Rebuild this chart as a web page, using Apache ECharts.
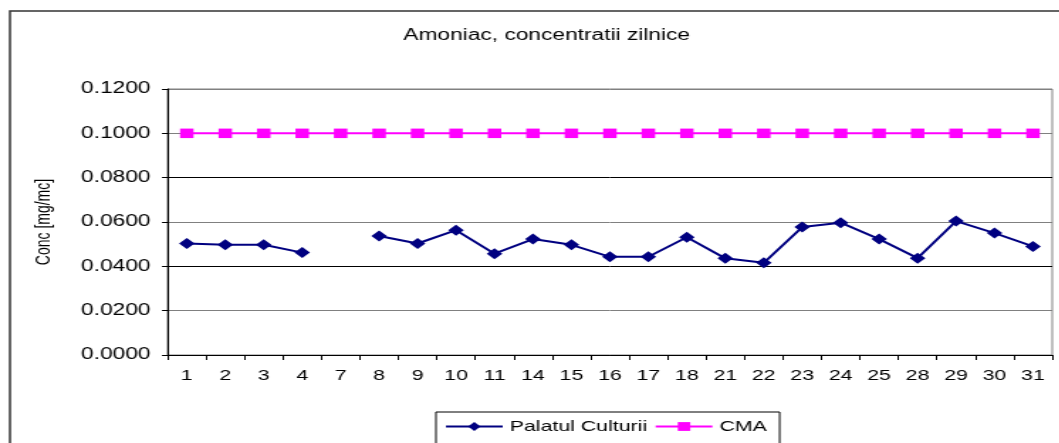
<!DOCTYPE html>
<html>
<head>
<meta charset="utf-8">
<script src="https://cdn.jsdelivr.net/npm/echarts@6/dist/echarts.min.js"></script>
<style>
  html, body { margin: 0; padding: 0; background: #fff; overflow: hidden; }
  /* the original picture is stretched sideways, so draw narrow and widen */
  #chart {
    width: 746px;
    height: 443px;
    transform: scaleX(1.42);
    transform-origin: 0 0;
  }
</style>
</head>
<body>
<div id="chart"></div>
<script>
const days = ['1', '2', '3', '4', '7', '8', '9', '10', '11', '14', '15', '16', '17', '18', '21', '22', '23', '24', '25', '28', '29', '30', '31']
const palatulCulturii = [0.0503, 0.0497, 0.0497, 0.0462, null, 0.0537, 0.0503, 0.0563, 0.0457, 0.0523, 0.0497, 0.0443, 0.0443, 0.0531, 0.0436, 0.0416, 0.0577, 0.0597, 0.0523, 0.0437, 0.0604, 0.0550, 0.0490]
const cma = [0.1, 0.1, 0.1, 0.1, 0.1, 0.1, 0.1, 0.1, 0.1, 0.1, 0.1, 0.1, 0.1, 0.1, 0.1, 0.1, 0.1, 0.1, 0.1, 0.1, 0.1, 0.1, 0.1]

const font = 'Liberation Sans, Arial, sans-serif'
const myChart = echarts.init(document.getElementById('chart'))

myChart.setOption({
  backgroundColor: '#fff',
  animation: false,
  textStyle: { fontFamily: font },
  graphic: [
    {
      type: 'rect',
      shape: { x: 7, y: 11, width: 800, height: 500 },
      style: { fill: 'none', stroke: '#333', lineWidth: 1.5 },
      silent: true
    }
  ],
  title: {
    text: 'Amoniac, concentratii zilnice',
    left: 380,
    top: 23,
    textAlign: 'center',
    textStyle: { fontSize: 16, fontWeight: 'normal', color: '#000', fontFamily: font }
  },
  legend: {
    data: ['Palatul Culturii', 'CMA'],
    left: 307,
    top: 412,
    padding: [7, 9, 10, 6],
    itemWidth: 40,
    itemHeight: 11,
    itemGap: 5,
    borderColor: '#000',
    borderWidth: 1,
    textStyle: { fontSize: 15, color: '#000', fontFamily: font }
  },
  grid: {
    left: 118,
    right: 5,
    top: 89,
    bottom: 88,
    show: true,
    borderColor: '#808080',
    borderWidth: 1
  },
  xAxis: {
    type: 'category',
    data: days,
    boundaryGap: true,
    axisLine: { lineStyle: { color: '#000', width: 1 } },
    axisTick: { show: true, interval: 0, length: 5, lineStyle: { color: '#000' } },
    axisLabel: { interval: 0, margin: 13, fontSize: 15, color: '#000', fontFamily: font },
    splitLine: { show: false }
  },
  yAxis: {
    type: 'value',
    min: 0,
    max: 0.12,
    interval: 0.02,
    name: 'Conc [mg/mc]',
    nameLocation: 'middle',
    nameRotate: 90,
    nameGap: 80,
    nameTextStyle: { fontSize: 14, color: '#000', fontFamily: font },
    axisLine: { show: true, lineStyle: { color: '#000', width: 1 } },
    axisTick: { show: true, length: 4, lineStyle: { color: '#000' } },
    axisLabel: {
      margin: 12,
      fontSize: 16,
      color: '#000',
      fontFamily: font,
      formatter: (v) => v.toFixed(4)
    },
    splitLine: {
      show: true,
      lineStyle: {
        color: ['#000', '#808080', '#000', '#808080', '#000', '#808080', '#808080'],
        width: 1
      }
    }
  },
  series: [
    {
      name: 'Palatul Culturii',
      type: 'line',
      data: palatulCulturii,
      connectNulls: false,
      symbol: 'diamond',
      symbolSize: 11,
      color: '#000080',
      lineStyle: { color: '#000080', width: 2 },
      itemStyle: { color: '#000080' }
    },
    {
      name: 'CMA',
      type: 'line',
      data: cma,
      symbol: 'rect',
      symbolSize: 9.5,
      color: '#ff00ff',
      lineStyle: { color: '#ff00ff', width: 2 },
      itemStyle: { color: '#ff00ff' }
    }
  ]
})
</script>
</body>
</html>
